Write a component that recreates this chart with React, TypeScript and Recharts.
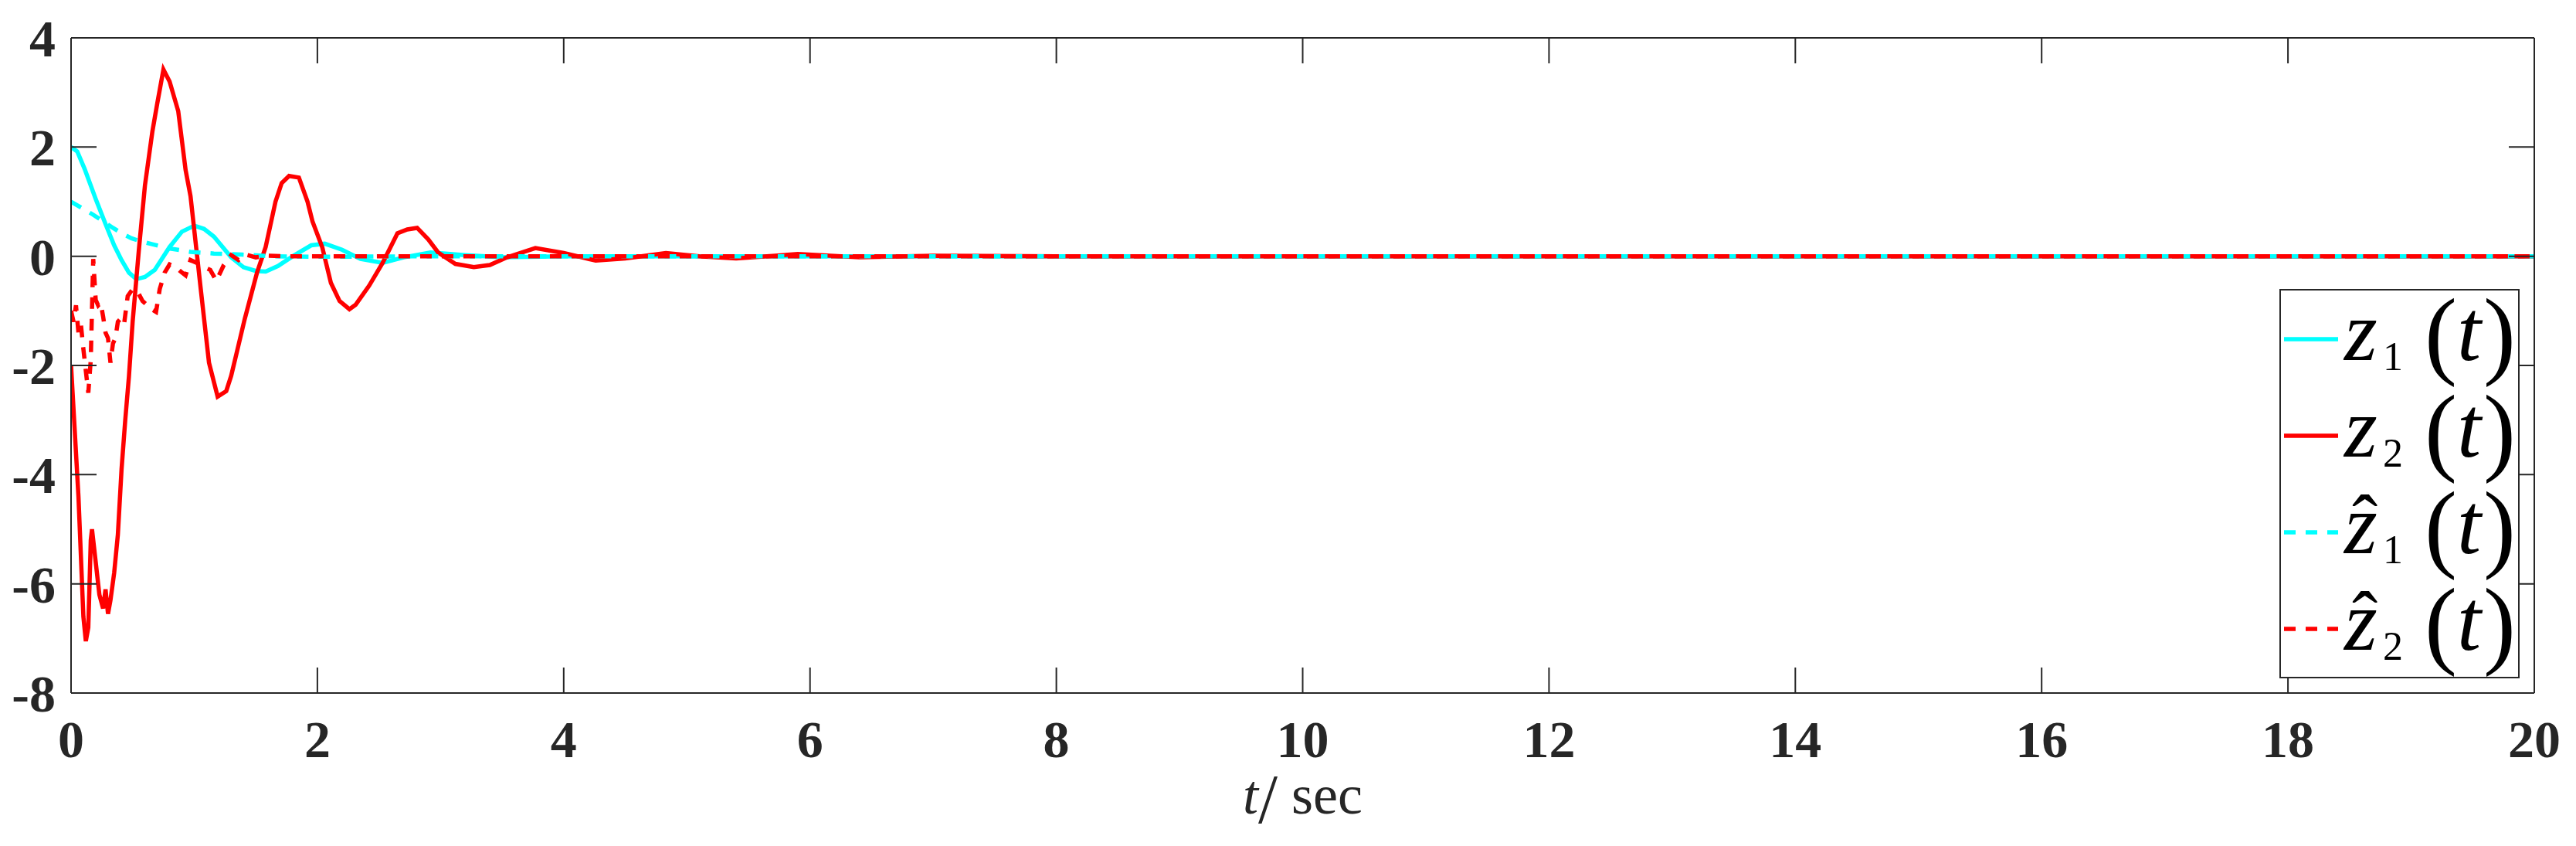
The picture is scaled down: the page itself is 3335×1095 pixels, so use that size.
import React from 'react'
import { LineChart, Line, XAxis, YAxis } from 'recharts'

// z1(t): cyan solid
const z1Time = [0, 0.05, 0.11, 0.2, 0.28, 0.35, 0.41, 0.47, 0.53, 0.6, 0.68, 0.8, 0.9, 1.0, 1.08, 1.16, 1.3, 1.4, 1.5, 1.58, 1.68, 1.8, 1.95, 2.06, 2.2, 2.35, 2.53, 2.7, 2.92, 3.2, 3.5, 4, 6, 10, 20]
const z1Vals = [2.0, 1.92, 1.6, 1.05, 0.59, 0.2, -0.07, -0.3, -0.42, -0.38, -0.25, 0.17, 0.45, 0.56, 0.5, 0.36, -0.02, -0.2, -0.27, -0.28, -0.18, 0.0, 0.2, 0.23, 0.12, -0.05, -0.12, -0.02, 0.07, 0.02, -0.02, 0, 0, 0, 0]

// z2(t): red solid
const z2Time = [0, 0.02, 0.04, 0.06, 0.08, 0.1, 0.12, 0.14, 0.16, 0.17, 0.2, 0.23, 0.26, 0.28, 0.3, 0.32, 0.35, 0.38, 0.41, 0.44, 0.47, 0.5, 0.55, 0.6, 0.66, 0.7, 0.75, 0.8, 0.87, 0.93, 0.97, 1.05, 1.12, 1.19, 1.26, 1.3, 1.35, 1.41, 1.51, 1.58, 1.66, 1.71, 1.77, 1.85, 1.92, 1.96, 2.04, 2.11, 2.18, 2.26, 2.31, 2.42, 2.53, 2.65, 2.73, 2.81, 2.9, 2.98, 3.12, 3.27, 3.4, 3.54, 3.77, 4.0, 4.26, 4.5, 4.83, 5.1, 5.4, 5.9, 6.4, 7.0, 8, 10, 20]
const z2Vals = [-2.0, -2.8, -3.6, -4.4, -5.5, -6.6, -7.05, -6.8, -5.2, -5.0, -5.6, -6.2, -6.45, -6.1, -6.55, -6.3, -5.8, -5.1, -3.9, -3.0, -2.2, -1.2, 0.1, 1.3, 2.28, 2.8, 3.42, 3.2, 2.66, 1.58, 1.1, -0.54, -1.95, -2.57, -2.47, -2.19, -1.72, -1.15, -0.3, 0.17, 1.0, 1.34, 1.47, 1.44, 1.0, 0.64, 0.16, -0.49, -0.82, -0.97, -0.89, -0.54, -0.12, 0.42, 0.49, 0.52, 0.31, 0.07, -0.14, -0.2, -0.16, -0.02, 0.15, 0.06, -0.08, -0.04, 0.06, 0.0, -0.04, 0.04, -0.02, 0.01, 0, 0, 0]

// z1 hat: cyan dashed
const zh1Time = [0, 0.09, 0.18, 0.26, 0.34, 0.42, 0.49, 0.57, 0.66, 0.78, 0.97, 1.16, 1.39, 1.64, 2.0, 3, 6, 10, 20]
const zh1Vals = [1.0, 0.88, 0.76, 0.64, 0.52, 0.41, 0.33, 0.27, 0.22, 0.15, 0.08, 0.05, 0.03, 0.0, -0.01, 0, 0, 0, 0]

// z2 hat: red dashed
const zh2Time = [0, 0.02, 0.04, 0.06, 0.08, 0.1, 0.12, 0.14, 0.16, 0.18, 0.2, 0.22, 0.24, 0.26, 0.28, 0.3, 0.32, 0.34, 0.36, 0.38, 0.4, 0.43, 0.46, 0.5, 0.54, 0.58, 0.62, 0.66, 0.69, 0.72, 0.76, 0.8, 0.85, 0.89, 0.93, 0.97, 1.02, 1.08, 1.13, 1.18, 1.24, 1.3, 1.36, 1.42, 1.5, 1.6, 1.75, 2.0, 3, 6, 10, 20]
const zh2Vals = [-1.0, -1.2, -0.9, -1.4, -1.25, -1.7, -2.1, -2.5, -1.9, -0.05, -0.8, -0.9, -0.85, -1.1, -1.4, -1.5, -1.95, -1.6, -1.5, -1.2, -1.15, -1.25, -0.73, -0.6, -0.65, -0.82, -0.9, -0.98, -1.02, -0.6, -0.3, -0.15, -0.2, -0.28, -0.35, -0.07, -0.12, -0.2, -0.25, -0.45, -0.16, 0.02, -0.07, 0.03, -0.02, 0.01, 0, 0, 0, 0, 0, 0]

const xTicks = [0, 2, 4, 6, 8, 10, 12, 14, 16, 18, 20]
const yTicks = [-8, -6, -4, -2, 0, 2, 4]

const legendItems = [
  { sub: '1', hat: false, color: '#00ffff', dash: undefined },
  { sub: '2', hat: false, color: '#ff0000', dash: undefined },
  { sub: '1', hat: true, color: '#00ffff', dash: '15 13' },
  { sub: '2', hat: true, color: '#ff0000', dash: '15 13' },
]

const zip = (t: number[], v: number[]) => t.map((x, i) => ({ t: x, v: v[i] }))

const FONT = "'Liberation Serif', 'Times New Roman', serif"
const AX = '#262626'
const LW = 5.5

const XLabel = (props: any) => {
  const vb = props.viewBox || {}
  const cx = vb.x + vb.width / 2
  const y = vb.y + 156
  return (
    <text x={cx} y={y} textAnchor="middle" fontFamily={FONT} fontSize={72} fill={AX}>
      <tspan fontStyle="italic">t</tspan>
      <tspan fontSize={90} dy={12}>/</tspan>
      <tspan dy={-12}> sec</tspan>
    </text>
  )
}

function MathLegend() {
  return (
    <div style={{
      position: 'absolute', left: 2943, top: 366, width: 307, height: 500,
      border: `2px solid ${AX}`, background: '#fff'
    }}>
      <svg width={307} height={500} style={{ overflow: 'visible' }}>
        {legendItems.map((it, i) => {
          const cy = 63 + i * 125
          const base = cy + 27
          return (
            <g key={i}>
              <line x1={4} x2={74} y1={cy} y2={cy} stroke={it.color} strokeWidth={LW} strokeDasharray={it.dash} />
              <text fontFamily={FONT} fill="#000">
                {it.hat && <tspan x={92} y={base - 6} fontSize={100}>ˆ</tspan>}
                <tspan x={82} y={base} fontSize={110} fontStyle="italic">z</tspan>
                <tspan x={132} y={base + 13} fontSize={52}>{it.sub}</tspan>
                <tspan x={186} y={base + 8} fontSize={126}>(</tspan>
                <tspan x={228} y={base} fontSize={112} fontStyle="italic">t</tspan>
                <tspan x={262} y={base + 8} fontSize={126}>)</tspan>
              </text>
            </g>
          )
        })}
      </svg>
    </div>
  )
}

export default function App() {
  const tickStyle = { fill: AX, fontSize: 68, fontWeight: 'bold' as const, fontFamily: FONT }
  const axLine = { stroke: AX, strokeWidth: 2 }
  return (
    <div style={{ position: 'relative', width: 3319, height: 1079, background: '#fff' }}>
      <LineChart width={3319} height={1079} margin={{ top: 40, right: 45, left: 0, bottom: 0 }}>
        <XAxis
          dataKey="t" type="number" domain={[0, 20]} ticks={xTicks} allowDataOverflow
          height={190} tickSize={-33} tickMargin={68}
          stroke={AX} axisLine={axLine} tickLine={axLine}
          tick={tickStyle} label={<XLabel />}
        />
        <XAxis
          xAxisId="top" orientation="top" dataKey="t" type="number" domain={[0, 20]} ticks={xTicks} allowDataOverflow
          height={1} tickSize={-33} tickFormatter={() => ''}
          stroke={AX} axisLine={axLine} tickLine={axLine}
        />
        <YAxis
          type="number" domain={[-8, 4]} ticks={yTicks} allowDataOverflow
          width={84} tickSize={-33} tickMargin={53}
          stroke={AX} axisLine={axLine} tickLine={axLine}
          tick={tickStyle}
        />
        <YAxis
          yAxisId="right" orientation="right" type="number" domain={[-8, 4]} ticks={yTicks} allowDataOverflow
          width={1} tickSize={-33} tickFormatter={() => ''}
          stroke={AX} axisLine={axLine} tickLine={axLine}
        />
        <Line data={zip(z1Time, z1Vals)} dataKey="v" type="linear" stroke="#00ffff" strokeWidth={LW} dot={false} isAnimationActive={false} />
        <Line data={zip(z2Time, z2Vals)} dataKey="v" type="linear" stroke="#ff0000" strokeWidth={LW} dot={false} isAnimationActive={false} />
        <Line data={zip(zh1Time, zh1Vals)} dataKey="v" type="linear" stroke="#00ffff" strokeWidth={LW} strokeDasharray="15 13" dot={false} isAnimationActive={false} />
        <Line data={zip(zh2Time, zh2Vals)} dataKey="v" type="linear" stroke="#ff0000" strokeWidth={LW} strokeDasharray="15 13" dot={false} isAnimationActive={false} />
      </LineChart>
      <MathLegend />
    </div>
  )
}
